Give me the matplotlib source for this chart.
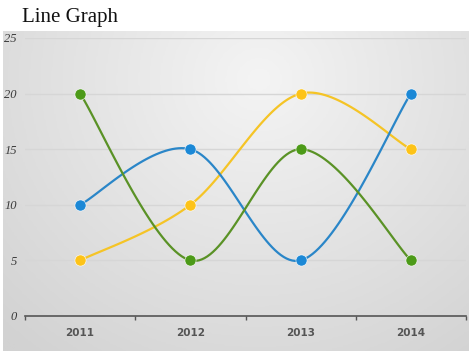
import matplotlib.pyplot as plt
import numpy as np
from matplotlib.colors import LinearSegmentedColormap


YEARS = ['2011', '2012', '2013', '2014']
BLUE_VALUES = [10, 15, 5, 20]
YELLOW_VALUES = [5, 10, 20, 15]
GREEN_VALUES = [20, 5, 15, 5]
Y_TICKS = [0, 5, 10, 15, 20, 25]

SERIES = [
    (YELLOW_VALUES, '#f5c426', '#fdc318'),
    (BLUE_VALUES, '#2a86c8', '#1b88d6'),
    (GREEN_VALUES, '#5a9226', '#4c9a18'),
]


def smooth_curve(xs, ys, steps=40):
    '''Excel style smoothed line: cubic bezier through each pair of points'''
    pts = np.column_stack([xs, ys]).astype(float)
    n = len(pts)
    out = []
    for i in range(n - 1):
        p_prev = pts[max(i - 1, 0)]
        p0, p1 = pts[i], pts[i + 1]
        p_next = pts[min(i + 2, n - 1)]
        c1 = p0 + (p1 - p_prev) / 6
        c2 = p1 - (p_next - p0) / 6
        t = np.linspace(0, 1, steps)[:, None]
        seg = ((1 - t) ** 3 * p0 + 3 * (1 - t) ** 2 * t * c1
               + 3 * (1 - t) * t ** 2 * c2 + t ** 3 * p1)
        out.append(seg if i == 0 else seg[1:])
    out = np.vstack(out)
    return out[:, 0], out[:, 1]


fig = plt.figure(figsize=(4.74, 3.51), dpi=100)
fig.patch.set_facecolor('white')

# gray gradient panel behind the chart
bg = fig.add_axes([3 / 474, 0, 466 / 474, 320 / 351])
gx, gy = np.meshgrid(np.linspace(0, 1, 300), np.linspace(0, 1, 220))
dist = np.sqrt(((gx - 0.55) / 0.8) ** 2 + ((gy - 0.15) / 1.1) ** 2)
cmap = LinearSegmentedColormap.from_list('panel', ['#f4f4f4', '#d2d2d2'])
bg.imshow(np.clip(dist, 0, 1), cmap=cmap, vmin=0, vmax=1, aspect='auto',
          extent=[0, 1, 1, 0])
bg.set_axis_off()

ax = fig.add_axes([25 / 474, 35 / 351, 441 / 474, 278 / 351])
ax.set_facecolor('none')
x = np.arange(len(YEARS))

for values, line_color, marker_color in SERIES:
    sx, sy = smooth_curve(x, values)
    ax.plot(sx, sy, color=line_color, lw=1.6, zorder=3)
    ax.plot(x, values, 'o', color=marker_color, ms=8, mec='#ffffff',
            mew=0.4, zorder=4)

ax.set_xlim(-0.5, len(YEARS) - 0.5)
ax.set_ylim(0, 25)

ax.set_yticks(Y_TICKS)
ax.set_yticklabels([str(v) for v in Y_TICKS], family='Liberation Serif',
                   style='italic', fontsize=9, color='#3a3a3a')
ax.tick_params(axis='y', length=0, pad=6)
for v in Y_TICKS[1:]:
    ax.axhline(v, color='#d6d6d6', lw=1, zorder=1)

ax.set_xticks(x)
ax.set_xticklabels(YEARS, fontsize=7.5, fontweight='bold', color='#555555')
ax.tick_params(axis='x', length=0, pad=9)
ax.set_xticks(np.arange(len(YEARS) + 1) - 0.5, minor=True)
ax.tick_params(axis='x', which='minor', length=3, width=1, color='#555555')

for side in ['top', 'right', 'left']:
    ax.spines[side].set_visible(False)
ax.spines['bottom'].set_color('#555555')
ax.spines['bottom'].set_linewidth(1.2)

fig.text(22 / 474, 1 - 22 / 351, 'Line Graph', family='Liberation Serif',
         fontsize=15, color='#111111', va='baseline')

fig.savefig('out.png', dpi=100)
